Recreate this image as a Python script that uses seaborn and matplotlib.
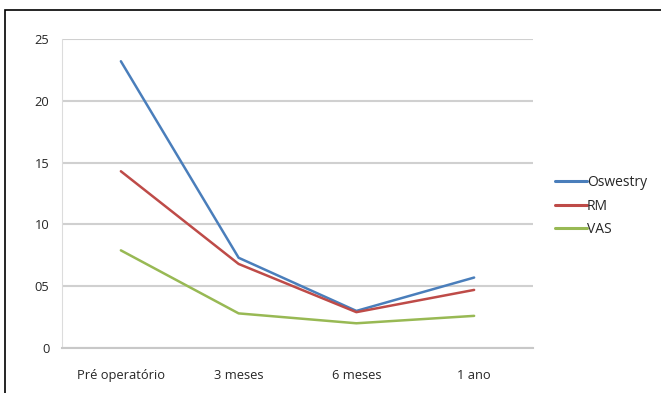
import pandas as pd
import matplotlib
matplotlib.use('Agg')
import matplotlib.pyplot as plt
import seaborn as sns
from matplotlib.patches import Rectangle

# dados
momentos = ['Pré operatório', '3 meses', '6 meses', '1 ano']
oswestry = [23.2, 7.3, 3.0, 5.7]
rm = [14.3, 6.8, 2.9, 4.7]
vas = [7.9, 2.8, 2.0, 2.6]
series = ['Oswestry', 'RM', 'VAS']
cores = ['#4a7ebb', '#be4b48', '#98b954']
yticks = [0, 5, 10, 15, 20, 25]
ytick_labels = ['0', '05', '10', '15', '20', '25']

df = pd.DataFrame({
    'momento': momentos * 3,
    'pos': list(range(len(momentos))) * 3,
    'valor': oswestry + rm + vas,
    'escala': [s for s in series for _ in momentos],
})

sns.set_style('white')
plt.rcParams['font.family'] = ['Open Sans', 'DejaVu Sans']

fig = plt.figure(figsize=(6.61, 3.93), dpi=100)
ax = fig.add_axes([62 / 661, 1 - 348 / 393, 471 / 661, 309 / 393])

sns.lineplot(data=df, x='pos', y='valor', hue='escala', palette=cores,
             hue_order=series, linewidth=1.8, ax=ax, legend=True)

ax.set_xlim(-0.5, 3.5)
ax.set_ylim(0, 25)
ax.set_yticks(yticks)
ax.set_yticklabels(ytick_labels, fontsize=9.3)
ax.set_xticks(range(len(momentos)))
ax.set_xticklabels(momentos, fontsize=9.3)
ax.set_xticks([-0.5, 0.5, 1.5, 2.5, 3.5], minor=True)
ax.tick_params(axis='x', which='major', length=0, pad=15)
ax.tick_params(axis='x', which='minor', length=4, color='#c8c8c8', width=1)
ax.tick_params(axis='y', length=5, color='#c8c8c8', width=1, pad=4)
ax.set_xlabel('')
ax.set_ylabel('')

ax.grid(axis='y', color='#d0d0d0', linewidth=1.5)
ax.set_axisbelow(True)
for s in ['top', 'right']:
    ax.spines[s].set_visible(False)
ax.spines['left'].set_color('#dcdcdc')
ax.spines['bottom'].set_color('#c8c8c8')
ax.spines['bottom'].set_linewidth(1.5)

leg = ax.legend(loc='center left', bbox_to_anchor=(555 / 661, 1 - 206 / 393),
                bbox_transform=fig.transFigure, frameon=False, fontsize=10,
                handlelength=2.3, handletextpad=0.0, labelspacing=0.6,
                borderaxespad=0, borderpad=0)
for line in leg.get_lines():
    line.set_linewidth(2.2)

# moldura
fig.patches.append(Rectangle((5 / 661, -0.01), 1.0, 1 - 10 / 393 + 0.01,
                             transform=fig.transFigure, fill=False,
                             edgecolor='black', linewidth=1.2))

fig.savefig('out.png', dpi=100)
